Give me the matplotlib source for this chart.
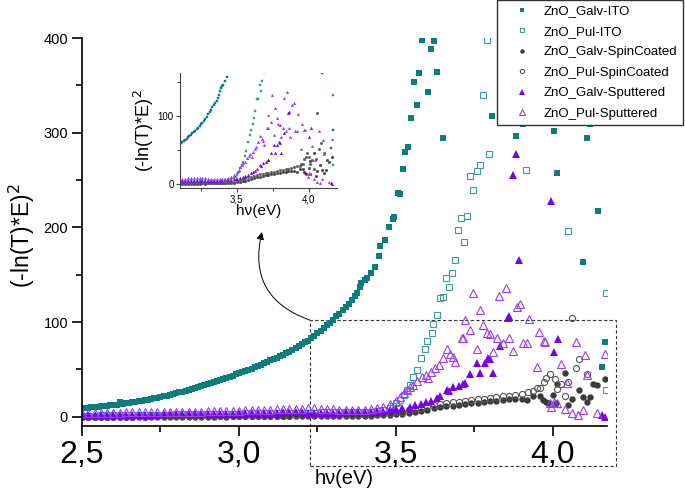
import numpy as np
import matplotlib
matplotlib.use('Agg')
import matplotlib.pyplot as plt
from matplotlib.ticker import MultipleLocator, FuncFormatter
from matplotlib.patches import Rectangle

plt.rcParams['font.family'] = ['Liberation Sans', 'DejaVu Sans']

labels = ['ZnO_Galv-ITO', 'ZnO_Pul-ITO', 'ZnO_Galv-SpinCoated',
          'ZnO_Pul-SpinCoated', 'ZnO_Galv-Sputtered', 'ZnO_Pul-Sputtered']

# energy grids of the dense low-energy part of the spectra
e_ito = np.round(np.arange(2.50, 3.305, 0.01), 2)
e_low = np.round(np.arange(2.50, 3.445, 0.02), 2)
e_spin = np.round(np.arange(2.50, 3.905, 0.02), 2)

# ZnO_Galv-ITO
galv_ito_low = [8.9, 9.2, 9.6, 9.9, 10.2, 10.5, 10.8, 11.1, 11.5, 11.9,
                12.3, 12.7, 16.0, 13.6, 14.1, 14.6, 15.1, 15.6, 16.1, 16.7,
                17.3, 17.9, 18.6, 19.3, 20.0, 20.8, 21.6, 22.4, 23.2, 24.0,
                24.8, 25.7, 26.6, 27.5, 28.5, 29.5, 30.5, 31.5, 32.5, 33.5,
                34.5, 35.5, 36.5, 37.6, 38.7, 39.8, 41.0, 42.2, 43.4, 44.6,
                45.8, 47.0, 48.2, 49.5, 50.8, 52.1, 53.5, 55.0, 56.5, 58.0,
                59.5, 61.0, 62.5, 64.0, 65.5, 67.0, 68.8, 70.6, 72.5, 74.5,
                76.5, 78.5, 80.5, 83.0, 85.5, 88.0, 90.5, 93.5, 96.5, 99.5,
                102.5]
galv_ito_e = [3.31, 3.32, 3.33, 3.34, 3.35, 3.36, 3.37, 3.375, 3.385, 3.39,
              3.40, 3.407, 3.42, 3.433, 3.445, 3.449, 3.465, 3.478, 3.491, 3.495,
              3.507, 3.513, 3.521, 3.530, 3.539, 3.548, 3.557, 3.567, 3.574, 3.584,
              3.603, 3.612, 3.622, 3.629, 3.651, 3.805, 3.882, 3.903, 4.003, 4.013,
              4.094, 4.107, 4.118, 4.142, 4.155, 4.167]
galv_ito_v = [106, 109, 113, 116, 119, 123, 127, 131, 137, 141,
              144, 146, 152, 158, 170, 180, 187, 200, 209, 211,
              236, 235, 262, 280, 285, 315, 354, 329, 363, 398,
              343, 388, 397, 364, 294, 318, 296, 309, 302, 257,
              163, 294, 309, 217, 53, 79]

# ZnO_Pul-ITO
pul_ito_low = [1.0, 1.2, 1.1, 1.3, 1.4, 1.3, 1.5, 1.6, 1.6, 1.8,
               1.9, 1.9, 2.1, 2.2, 2.2, 2.4, 2.5, 2.6, 2.6, 2.8,
               2.9, 3.0, 3.0, 3.2, 3.3, 3.3, 3.5, 3.6, 3.6, 3.8,
               3.9, 3.9, 4.1, 4.2, 4.2, 4.3, 4.4, 4.4, 4.5, 4.5,
               4.6, 4.6, 4.7, 4.8, 4.9, 5.1, 5.4, 6.0]
pul_ito_e = [3.46, 3.48, 3.492, 3.50, 3.513, 3.524, 3.534, 3.545, 3.555, 3.566,
             3.579, 3.593, 3.60, 3.614, 3.619, 3.629, 3.640, 3.651, 3.659, 3.669,
             3.678, 3.688, 3.698, 3.708, 3.718, 3.727, 3.737, 3.746, 3.757, 3.768,
             3.778, 3.789, 3.797, 3.914, 4.049, 4.168, 4.168]
pul_ito_v = [7, 9, 11, 14, 18, 23, 28, 33, 42, 49,
             62, 72, 80, 88, 98, 107, 125, 126, 146, 137,
             152, 165, 197, 210, 185, 212, 254, 239, 260, 266,
             340, 398, 277, 261, 196, 131, 28]

# ZnO_Galv-SpinCoated
galv_spin_low = [-0.5, -0.4, -0.5, -0.3, -0.4, -0.3, -0.2, -0.3, -0.2, -0.1,
                 -0.2, -0.1, 0.0, -0.1, 0.0, 0.1, 0.0, 0.1, 0.2, 0.1,
                 0.2, 0.2, 0.3, 0.2, 0.3, 0.4, 0.3, 0.4, 0.5, 0.4,
                 0.5, 0.5, 0.6, 0.5, 0.6, 0.7, 0.6, 0.7, 0.8, 0.7,
                 0.8, 0.9, 0.9, 1.0, 1.0, 1.1, 1.2, 1.4, 1.6, 2.0,
                 2.5, 3.2, 4.0, 5.0, 6.2, 7.5, 8.8, 10.0, 11.0, 11.8,
                 12.6, 13.4, 14.2, 14.8, 15.5, 16.2, 17.0, 17.8, 18.5, 19.2,
                 18.6]
galv_spin_e = [3.916, 3.937, 3.959, 3.969, 3.978, 3.985, 4.001, 4.011, 4.013, 4.038,
               4.049, 4.06, 4.083, 4.094, 4.107, 4.118, 4.129, 4.141, 4.166]
galv_spin_v = [18, 22, 22, 17.6, 16, 15, 23, 15, 34.5, 46,
               12, 19, 28, 21, 16, 21, 35, 33, 40]

# ZnO_Pul-SpinCoated
pul_spin_low = [-0.2, 0.0, -0.1, 0.1, 0.0, 0.1, 0.2, 0.1, 0.2, 0.3,
                0.2, 0.3, 0.4, 0.3, 0.4, 0.5, 0.4, 0.5, 0.6, 0.5,
                0.6, 0.7, 0.6, 0.7, 0.8, 0.8, 0.9, 0.9, 1.0, 1.0,
                1.1, 1.1, 1.2, 1.2, 1.3, 1.3, 1.4, 1.4, 1.5, 1.5,
                1.6, 1.6, 1.7, 1.8, 1.9, 2.0, 2.2, 2.5, 2.9, 3.5,
                4.5, 5.5, 6.8, 8.2, 9.6, 11.0, 12.3, 13.4, 14.4, 15.2,
                16.0, 16.8, 17.6, 18.4, 19.2, 20.0, 20.8, 21.6, 22.4, 23.2,
                24.5]
pul_spin_e = [3.92, 3.937, 3.948, 3.959, 3.971, 3.979, 3.992, 4.006, 4.013, 4.024,
              4.038, 4.049, 4.06, 4.073, 4.084, 4.107]
pul_spin_v = [26, 27, 30, 30, 37, 40.5, 45, 40, 29, 35,
              22, 36.6, 104.5, 51, 61, 45]

# ZnO_Galv-Sputtered
galv_sput_low = [1.5, 1.6, 1.6, 1.7, 1.8, 1.8, 1.9, 2.0, 2.0, 2.1,
                 2.2, 2.2, 2.3, 2.4, 2.4, 2.5, 2.6, 2.6, 2.7, 2.8,
                 2.9, 3.0, 3.1, 3.2, 3.4, 3.5, 3.7, 3.9, 4.0, 4.2,
                 4.3, 4.4, 4.5, 4.6, 4.6, 4.5, 4.4, 4.3, 4.2, 4.2,
                 4.3, 4.4, 4.5, 4.6, 4.8, 5.0, 5.3, 5.8]
galv_sput_e = [3.46, 3.48, 3.492, 3.50, 3.52, 3.545, 3.56, 3.58, 3.597, 3.61,
               3.629, 3.64, 3.661, 3.67, 3.683, 3.70, 3.714, 3.72, 3.736, 3.757,
               3.768, 3.783, 3.794, 3.799, 3.808, 3.831, 3.858, 3.861, 3.872, 3.882,
               3.893, 3.993, 4.003, 4.015, 4.155, 4.165]
galv_sput_v = [6.5, 7, 7.5, 8, 9, 10.6, 12, 13.5, 16, 17,
               19.4, 22, 28, 27, 31, 32, 35, 36, 45, 57,
               46, 57, 62, 60.6, 46, 74.6, 104, 106, 255, 278,
               166, 228, 68.6, 82, 2, 0]

# ZnO_Pul-Sputtered
pul_sput_low = [3.8, 4.0, 4.1, 4.2, 4.3, 4.3, 4.4, 4.5, 4.6, 4.6,
                4.7, 4.8, 4.9, 5.0, 5.0, 5.1, 5.2, 5.3, 5.4, 5.5,
                5.6, 5.8, 5.9, 6.1, 6.3, 6.5, 6.7, 6.9, 7.1, 7.4,
                7.6, 7.8, 8.0, 8.2, 8.4, 8.6, 8.7, 8.7, 8.5, 8.2,
                7.9, 7.6, 7.4, 7.3, 7.3, 7.5, 8.0, 9.0]
pul_sput_e = [3.46, 3.48, 3.50, 3.513, 3.524, 3.534, 3.545, 3.555, 3.568, 3.582,
              3.595, 3.603, 3.611, 3.624, 3.637, 3.651, 3.661, 3.672, 3.683, 3.688,
              3.709, 3.714, 3.720, 3.736, 3.746, 3.757, 3.768, 3.778, 3.789, 3.799,
              3.808, 3.821, 3.829, 3.842, 3.850, 3.861, 3.872, 3.884, 3.895, 3.906,
              3.916, 3.925, 3.948, 3.956, 3.971, 3.975, 3.990, 3.993, 4.003, 4.013,
              4.025, 4.038, 4.045, 4.060, 4.073, 4.081, 4.094, 4.102, 4.109, 4.139,
              4.166]
pul_sput_v = [10.5, 13, 17, 21, 25, 28, 31, 33, 38, 42,
              44, 40.5, 47.5, 51, 54.6, 61.6, 71, 66, 63, 58,
              82.8, 82.8, 102, 91.5, 131, 72, 112.7, 97, 88, 87,
              68.6, 82.8, 127.5, 78, 135.6, 82.8, 69.7, 116, 119, 77.5,
              77.5, 103, 52, 89, 80, 79, 15, 10.6, 16, 15,
              56, 7.8, 36, 3.6, 78.6, 2, 7, 65, 44, 3.6,
              66]

series = [
    (np.r_[e_ito, galv_ito_e], np.r_[galv_ito_low, galv_ito_v]),
    (np.r_[e_low, pul_ito_e], np.r_[pul_ito_low, pul_ito_v]),
    (np.r_[e_spin, galv_spin_e], np.r_[galv_spin_low, galv_spin_v]),
    (np.r_[e_spin, pul_spin_e], np.r_[pul_spin_low, pul_spin_v]),
    (np.r_[e_low, galv_sput_e], np.r_[galv_sput_low, galv_sput_v]),
    (np.r_[e_low, pul_sput_e], np.r_[pul_sput_low, pul_sput_v]),
]
# marker, colour, filled, size
styles = [('s', '#0b7d7d', True, 4.2),
          ('s', '#3c9c9c', False, 4.2),
          ('o', '#3a3a3a', True, 4.6),
          ('o', '#555555', False, 4.4),
          ('^', '#7a00e8', True, 5.2),
          ('^', '#9a3cf5', False, 5.2)]

comma = FuncFormatter(lambda v, p: ('%.1f' % v).replace('.', ','))

fig = plt.figure(figsize=(6.85, 4.92), dpi=100)
ax = fig.add_axes([82 / 685, 66 / 492, 525 / 685, 388 / 492])

handles = []
for (x, y), (m, c, filled, ms) in zip(series, styles):
    h, = ax.plot(x, y, ls='none', marker=m, ms=ms, color=c,
                 mfc=c if filled else 'none', mec=c, mew=0.0 if filled else 0.8)
    handles.append(h)

ax.set_xlim(2.5, 4.172)
ax.set_ylim(-9.8, 400)
for s in ['top', 'right']:
    ax.spines[s].set_visible(False)
for s in ['left', 'bottom']:
    ax.spines[s].set_linewidth(1.2)
ax.xaxis.set_major_locator(MultipleLocator(0.5))
ax.xaxis.set_minor_locator(MultipleLocator(0.25))
ax.yaxis.set_major_locator(MultipleLocator(100))
ax.yaxis.set_minor_locator(MultipleLocator(50))
ax.xaxis.set_major_formatter(comma)
ax.tick_params(which='major', direction='out', length=7, width=1.2)
ax.tick_params(which='minor', direction='out', length=4, width=1.2)
ax.tick_params(axis='x', labelsize=23, pad=3)
ax.tick_params(axis='y', labelsize=10.5, pad=3)
for t in ax.get_xticklabels():
    t.set_family(['Liberation Sans Narrow', 'Liberation Sans'])
ax.set_xlabel('hν(eV)', fontsize=14.5)
ax.xaxis.set_label_coords(0.5, -0.11)
ax.set_ylabel('(-ln(T)*E)$^2$', fontsize=16.5)
ax.yaxis.set_label_coords(-0.085, 0.49)

# dashed zoom box and arrow to the inset
ax.add_patch(Rectangle((3.226, -52), 4.20 - 3.226, 102 + 52, fill=False,
                       ls=(0, (3, 2)), lw=0.8, ec='#333333', clip_on=False))
ax.annotate('', xy=(262 / 685, 1 - 232 / 492), xycoords='figure fraction',
            xytext=(3.226, 102), textcoords='data',
            arrowprops=dict(arrowstyle='-|>', color='black', lw=0.7,
                            mutation_scale=11, shrinkA=0, shrinkB=0,
                            connectionstyle='arc3,rad=-0.45'))

# inset
axi = fig.add_axes([180 / 685, 304 / 492, 157 / 685, 115 / 492])
for (x, y), (m, c, filled, ms) in zip(series, styles):
    axi.plot(x, y, ls='none', marker=m, ms=1.8, color=c, mfc=c, mec=c, mew=0.3)
axi.set_xlim(3.104, 4.198)
axi.set_ylim(-5.9, 163.7)
for s in ['top', 'right']:
    axi.spines[s].set_visible(False)
for s in ['left', 'bottom']:
    axi.spines[s].set_linewidth(0.8)
    axi.spines[s].set_color('#444444')
axi.xaxis.set_major_locator(MultipleLocator(0.5))
axi.xaxis.set_minor_locator(MultipleLocator(0.25))
axi.yaxis.set_major_locator(MultipleLocator(100))
axi.yaxis.set_minor_locator(MultipleLocator(50))
axi.xaxis.set_major_formatter(comma)
axi.tick_params(which='major', direction='out', length=3, width=0.8, labelsize=7, pad=1.5,
                color='#444444')
axi.tick_params(which='minor', direction='out', length=2, width=0.8, color='#444444')
axi.set_xlabel('hν(eV)', fontsize=11, labelpad=0)
axi.set_ylabel('(-ln(T)*E)$^2$', fontsize=13, labelpad=1)

leg = fig.legend(handles, labels, loc='upper right', bbox_to_anchor=(683 / 685, 1.0),
                 fontsize=9.5, frameon=True, fancybox=False, framealpha=1,
                 edgecolor='#333333', borderpad=0.4, handlelength=3.0,
                 handletextpad=0.2, labelspacing=0.62, borderaxespad=0,
                 numpoints=1, markerscale=0.7)
leg.get_frame().set_linewidth(1.0)

fig.savefig('out.png', dpi=100)
